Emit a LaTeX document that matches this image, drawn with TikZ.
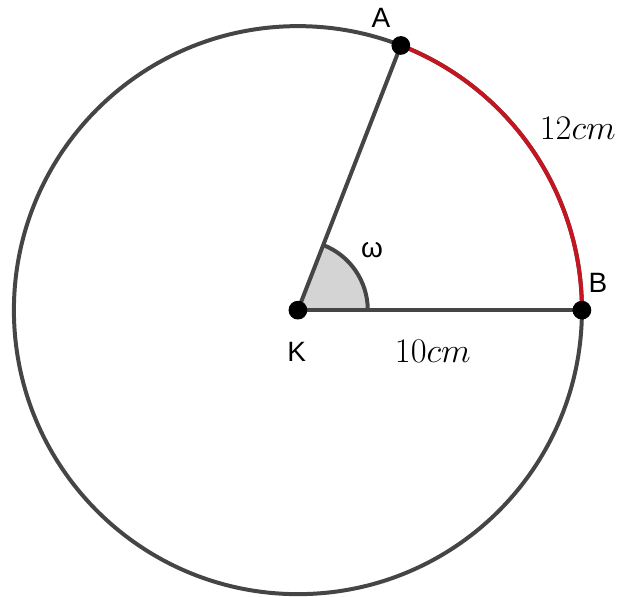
\documentclass[tikz,border=0pt]{standalone}
\usepackage{fontspec}
\newfontfamily\labelfont{Liberation Sans}
\usetikzlibrary{calc, backgrounds}
\definecolor{DGray}{HTML}{454545}
\definecolor{LGray}{HTML}{D4D4D4}
\definecolor{Red}{RGB}{ 196, 22, 32 }
\tikzset{
    dot/.style={circle, fill=black, inner sep=0pt, minimum size=3.3mm},
    ptname/.style={font=\labelfont\fontsize{14}{16}\selectfont, text=black},
    measure/.style={font=\fontsize{16}{19}\selectfont, text=black}
}
\begin{document}
\begin{tikzpicture}[x=0.5cm, y=0.5cm]
\useasboundingbox (-10.49,-10.07) rectangle (11.27,10.92);

% points
\node[dot] (K) at (0,0) {};
\node[dot] (A) at (68.75:10) {};
\node[dot] (B) at (0:10) {};

\begin{scope}[on background layer]
    \draw[DGray, line width=2pt] (K.center) circle (10);
    \fill[LGray] (K.center) -- ++(0:2.46) arc (0:68.75:2.46) -- cycle;
    \draw[DGray, line width=2pt] ($(K.center)+(2.46,0)$) arc (0:68.75:2.46);
    \draw[DGray, line width=2pt] (K.center) -- (A.center);
    \draw[DGray, line width=2pt] (K.center) -- (B.center);
    \draw[Red, line width=2pt] (B.center) arc (0:68.75:10);
\end{scope}

% labels
\node[ptname] (A-name) at (2.92,10.28) {A};
\node[ptname] (B-name) at (10.56,0.95) {B};
\node[ptname] (K-name) at (-0.04,-1.48) {K};
\node[ptname] (omega) at (2.61,2.11) {ω};
\node[measure, anchor=east, inner xsep=1pt] (arc-len) at (11.27,6.41) {$12cm$};
\node[measure] (radius-len) at (4.75,-1.44) {$10cm$};
\end{tikzpicture}
\end{document}
